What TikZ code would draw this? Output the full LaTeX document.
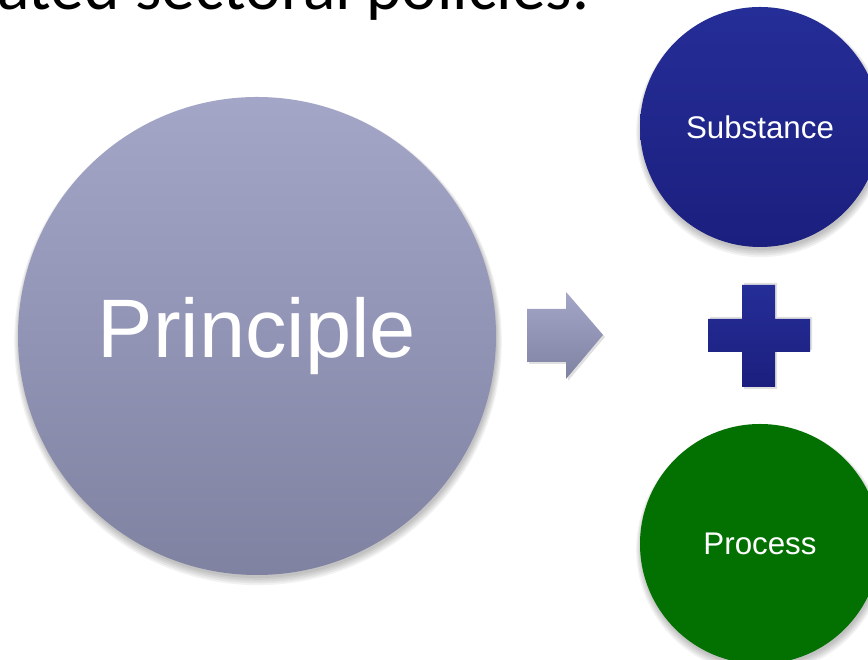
\documentclass[tikz,border=0pt]{standalone}
\usepackage{fontspec}
\setmainfont{Liberation Sans}
\newfontfamily\carlito{Carlito}
\usetikzlibrary{calc}
\definecolor{prtop}{HTML}{A4A6C8}
\definecolor{prbot}{HTML}{8082A2}
\definecolor{sbtop}{HTML}{252D97}
\definecolor{sbbot}{HTML}{1B1F7E}
\definecolor{pcgreen}{HTML}{027102}
\tikzset{
  bubble/.style={circle, inner sep=0pt, text=white},
  softshadow/.style={fill=black, opacity=0.05},
}
\newcommand{\blobshadow}[3]{% x y r
  \foreach \k in {0,1,2,3,4}{
    \fill[softshadow] (#1+1,#2-3-\k*0.6) circle ({#3+\k*1.2});
  }
}
\begin{document}
\begin{tikzpicture}[x=1pt,y=1pt]
\useasboundingbox (0,0) rectangle (868,660);
\fill[white] (0,0) rectangle (868,660);
% title fragment (cut off at top)
\node[anchor=base west, inner sep=0pt, font=\carlito\fontsize{67.5}{80}\selectfont] (title) at (-3,650) {ated sectoral policies.};
% shadows
\blobshadow{257}{324}{239}
\blobshadow{760}{533}{120}
\blobshadow{760}{116}{120}
% Principle
\node[bubble, minimum size=478pt, top color=prtop, bottom color=prbot, font=\fontsize{83}{96}\selectfont] (principle) at (257,324) {Principle};
% Substance
\node[bubble, minimum size=240pt, top color=sbtop, bottom color=sbbot, font=\fontsize{31.3}{36}\selectfont] (substance) at (760,533) {Substance};
% Process
\node[bubble, minimum size=240pt, fill=pcgreen, font=\fontsize{31.3}{36}\selectfont] (process) at (760,116) {Process};
% arrow
\fill[black, opacity=0.12] (529,349) -- (568,349) -- (568,366) -- (605,323) -- (568,279) -- (568,296) -- (529,296) -- cycle;
\path[top color=prtop, bottom color=prbot] (527,351) -- (566,351) -- (566,368) -- (603,325) -- (566,281) -- (566,298) -- (527,298) -- cycle;
% plus
\fill[black, opacity=0.12] (744,377) -- (777,377) -- (777,343) -- (812,343) -- (812,310) -- (777,310) -- (777,271) -- (744,271) -- (744,310) -- (710,310) -- (710,343) -- (744,343) -- cycle;
\path[top color=sbtop, bottom color=sbbot] (742,375) -- (775,375) -- (775,341) -- (810,341) -- (810,308) -- (775,308) -- (775,273) -- (742,273) -- (742,308) -- (708,308) -- (708,341) -- (742,341) -- cycle;
\end{tikzpicture}
\end{document}
